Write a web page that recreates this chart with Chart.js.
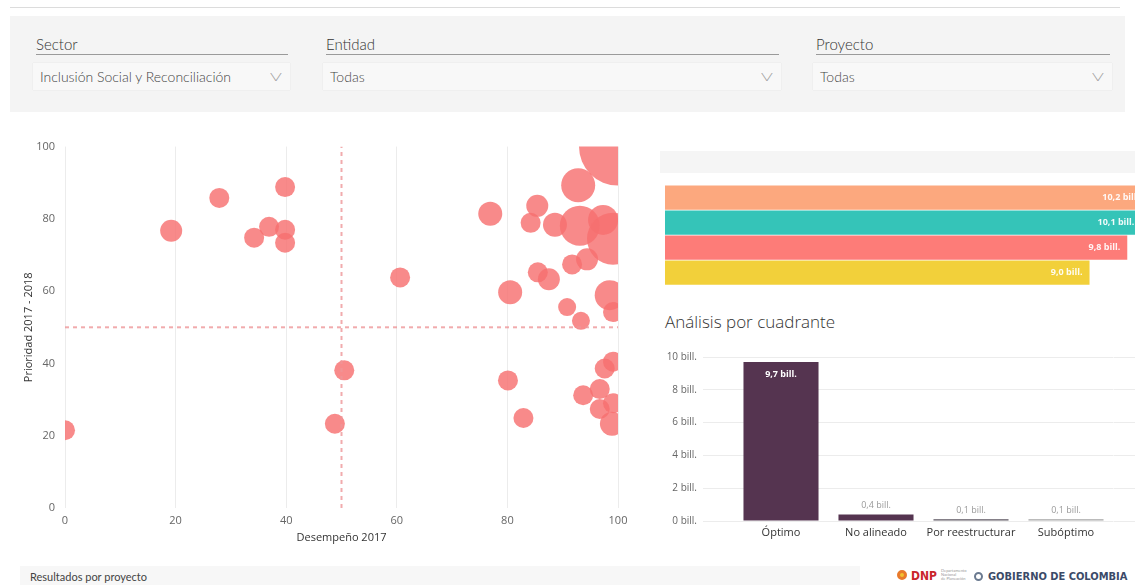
<!DOCTYPE html>
<html lang="es">
<head>
<meta charset="utf-8">
<title>Resultados por proyecto</title>
<script src="https://cdn.jsdelivr.net/npm/chart.js@4.4.1/dist/chart.umd.min.js"></script>
<style>
  html, body { margin: 0; padding: 0; }
  body {
    width: 1135px; height: 585px; overflow: hidden; position: relative;
    background: #fff; font-family: Lato, "Open Sans", sans-serif; color: #333;
  }
  .abs { position: absolute; white-space: nowrap; }
  .topline { left: 10px; top: 7px; width: 1110px; height: 1px; background: #dcdcdc; }
  .filtros { left: 10px; top: 16px; width: 1115px; height: 96px; background: #f4f4f4; }
  .flabel { font-size: 15px; font-weight: 300; color: #333; border-bottom: 1px solid #9a9a9a; padding-bottom: 1px; line-height: 18px; }
  .fbox { height: 27px; background: #f8f8f8; box-shadow: 0 0 1px rgba(0,0,0,0.12); font-size: 14px; font-weight: 300; color: #444; line-height: 27px; box-sizing: border-box; padding-left: 7px; }
  .chev { position: absolute; top: 0; right: 10px; color: #a0a0a0; font-size: 12px; font-weight: 300; transform: scaleX(1.5); }
  .chart { position: absolute; }
  .panelhead { left: 660px; top: 151px; width: 480px; height: 22px; background: #f5f5f5; }
  .titulo { left: 665px; top: 310px; font-size: 17px; font-weight: 300; color: #333; font-family: "Open Sans", Lato, sans-serif; }
  .footer { left: 20px; top: 566px; width: 840px; height: 19px; background: #f7f7f7; }
  .footxt { left: 30px; top: 570px; font-size: 11px; color: #444; }
  .gob { left: 988px; top: 570px; font-size: 11px; font-weight: bold; color: #3b4a68; font-family: "DejaVu Sans Condensed", "Liberation Sans Narrow", "Liberation Sans", sans-serif; }
</style>
</head>
<body>
<div class="abs topline"></div>
<div class="abs filtros"></div>

<div class="abs flabel" style="left:36px;top:35px;width:252px;">Sector</div>
<div class="abs fbox" style="left:33px;top:63px;width:257px;">Inclusión Social y Reconciliación<span class="chev">V</span></div>
<div class="abs flabel" style="left:326px;top:35px;width:453px;">Entidad</div>
<div class="abs fbox" style="left:323px;top:63px;width:458px;">Todas<span class="chev">V</span></div>
<div class="abs flabel" style="left:816px;top:35px;width:294px;">Proyecto</div>
<div class="abs fbox" style="left:813px;top:63px;width:299px;">Todas<span class="chev">V</span></div>

<div class="chart" style="left:0;top:130px;width:640px;height:420px;"><canvas id="dispersion"></canvas></div>

<div class="abs panelhead"></div>
<div class="chart" style="left:665px;top:185px;width:500px;height:100px;"><canvas id="resumen"></canvas></div>

<div class="abs titulo">Análisis por cuadrante</div>
<div class="chart" style="left:660px;top:345px;width:500px;height:200px;"><canvas id="cuadrantes"></canvas></div>

<div class="abs footer"></div>
<div class="abs footxt">Resultados por proyecto</div>
<div class="abs" style="left:897px;top:570px;width:10px;height:10px;border-radius:50%;border:3px solid #e87a2c;box-sizing:border-box;background:#f2c230;"></div>
<div class="abs" style="left:911px;top:569px;font-size:12px;font-weight:bold;color:#c9252c;font-family:'DejaVu Sans Condensed','Liberation Sans',sans-serif;">DNP</div>
<div class="abs" style="left:941px;top:569px;font-size:4px;line-height:4px;color:#999;">Departamento<br>Nacional<br>de Planeación</div>
<div class="abs" style="left:974px;top:572px;width:9px;height:9px;border-radius:50%;border:2px solid #6b7a90;box-sizing:border-box;"></div>
<div class="abs gob">GOBIERNO DE COLOMBIA</div>

<script>
// Proyectos: desempeño 2017 (x), prioridad 2017-2018 (y), tamaño de la burbuja
const desempeno = [0, 19.2, 27.9, 39.8, 36.9, 39.8, 34.2, 39.8, 100, 92.8, 76.9, 85.4, 84.2, 88.6, 93.1, 97.3, 99.1,
  91.7, 94.4, 85.5, 87.5, 80.5, 60.6, 98.5, 99.1, 90.8, 93.3, 50.5, 48.8, 80.1, 82.9, 97.6, 99.1, 93.7, 96.7, 96.7, 99.1, 98.9];
const prioridad = [21.5, 76.7, 85.8, 88.8, 77.8, 77.0, 74.8, 73.4, 100, 89.3, 81.4, 83.6, 78.9, 78.4, 78.1, 79.7, 74.5,
  67.4, 68.8, 65.2, 63.3, 59.7, 63.8, 58.9, 54.2, 55.6, 51.8, 38.1, 23.3, 35.3, 24.9, 38.6, 40.5, 31.2, 32.9, 27.4, 29.0, 23.3];
const tamano = [10, 11, 10, 10, 10, 10, 10, 10, 39, 17, 12, 11, 10, 12, 20, 15, 26,
  10, 11, 10, 11, 12, 10, 15, 10, 9, 9, 10, 10, 10, 10, 10, 10, 10, 10, 10, 10, 12];

// Barras del resumen (sin etiqueta visible)
const resumenLabels = ['1', '2', '3', '4'];
const resumenValores = [10.2, 10.1, 9.8, 9.0];

// Análisis por cuadrante (billones)
const cuadrantes = ['Óptimo', 'No alineado', 'Por reestructurar', 'Subóptimo'];
const cuadranteValores = [9.7, 0.4, 0.1, 0.1];
const cuadranteTicks = [0, 2, 4, 6, 8, 10];

Chart.defaults.font.family = "'Open Sans', Lato, sans-serif";
Chart.defaults.animation = false;

function bill(v) {
  return v.toFixed(1).replace('.', ',') + ' bill.';
}

// scatter / bubble chart
const burbujas = desempeno.map((d, i) => ({ x: d, y: prioridad[i], r: tamano[i] }));
const lineaRef = { borderColor: 'rgba(238,150,152,0.8)', borderDash: [4, 4], borderWidth: 2, pointRadius: 0, clip: 0 };

new Chart(document.getElementById('dispersion'), {
  type: 'bubble',
  data: {
    datasets: [
      Object.assign({ type: 'line', data: [{ x: 50, y: 0 }, { x: 50, y: 100 }] }, lineaRef),
      Object.assign({ type: 'line', data: [{ x: 0, y: 50 }, { x: 100, y: 50 }] }, lineaRef),
      { data: burbujas, backgroundColor: 'rgba(246,112,112,0.82)', borderWidth: 0, clip: 0 }
    ]
  },
  options: {
    responsive: true,
    maintainAspectRatio: false,
    layout: { autoPadding: false, padding: { top: 13, right: 22 } },
    plugins: { legend: { display: false }, tooltip: { enabled: false } },
    scales: {
      x: {
        min: 0, max: 100,
        ticks: { stepSize: 20, color: '#666', font: { size: 11 }, padding: 6 },
        grid: { color: '#ececec', drawTicks: false },
        border: { display: false },
        title: { display: true, text: 'Desempeño 2017', color: '#333', font: { size: 11 }, padding: { top: 0, bottom: 6 } },
        afterFit: (s) => { s.height = 42; }
      },
      y: {
        min: 0, max: 100,
        ticks: { stepSize: 20, color: '#666', font: { size: 11 }, padding: 10 },
        grid: { display: false, drawTicks: false },
        border: { display: false },
        title: { display: true, text: 'Prioridad 2017 - 2018', color: '#333', font: { size: 11 }, padding: { top: 22, bottom: 0 } },
        afterFit: (s) => { s.width = 65; }
      }
    }
  }
});

// labels inside the horizontal bars
const etiquetasResumen = {
  id: 'etiquetasResumen',
  afterDatasetsDraw(chart) {
    const ctx = chart.ctx;
    const meta = chart.getDatasetMeta(0);
    ctx.save();
    ctx.font = "bold 9px 'Open Sans', Lato, sans-serif";
    ctx.fillStyle = 'rgba(255,255,255,0.92)';
    ctx.textAlign = 'right';
    ctx.textBaseline = 'middle';
    meta.data.forEach((bar, i) => {
      ctx.fillText(bill(resumenValores[i]), bar.x - 7, bar.y);
    });
    ctx.restore();
  }
};

new Chart(document.getElementById('resumen'), {
  type: 'bar',
  data: {
    labels: resumenLabels,
    datasets: [{
      data: resumenValores,
      backgroundColor: ['#fca87e', '#35c4b8', '#fd7c78', '#f2d03a'],
      barPercentage: 0.97,
      categoryPercentage: 1
    }]
  },
  options: {
    indexAxis: 'y',
    responsive: true,
    maintainAspectRatio: false,
    layout: { autoPadding: false },
    plugins: { legend: { display: false }, tooltip: { enabled: false } },
    scales: {
      x: { display: false, min: 0, max: 10.6 },
      y: { display: false }
    }
  },
  plugins: [etiquetasResumen]
});

// labels for the quadrant columns
const etiquetasCuadrante = {
  id: 'etiquetasCuadrante',
  afterDatasetsDraw(chart) {
    const ctx = chart.ctx;
    const meta = chart.getDatasetMeta(0);
    ctx.save();
    ctx.textAlign = 'center';
    ctx.textBaseline = 'middle';
    meta.data.forEach((bar, i) => {
      const alto = bar.base - bar.y;
      if (alto > 30) {
        ctx.font = "bold 9px 'Open Sans', Lato, sans-serif";
        ctx.fillStyle = '#ffffff';
        ctx.fillText(bill(cuadranteValores[i]), bar.x, bar.y + 13);
      } else {
        ctx.font = "9px 'Open Sans', Lato, sans-serif";
        ctx.fillStyle = '#9a9a9a';
        ctx.fillText(bill(cuadranteValores[i]), bar.x, bar.y - 9);
      }
    });
    ctx.restore();
  }
};

new Chart(document.getElementById('cuadrantes'), {
  type: 'bar',
  data: {
    labels: cuadrantes,
    datasets: [{
      data: cuadranteValores,
      backgroundColor: ['#553450', '#553450', '#5c5660', '#a5a5a5'],
      barPercentage: 0.79,
      categoryPercentage: 1
    }]
  },
  options: {
    responsive: true,
    maintainAspectRatio: false,
    layout: { autoPadding: false, padding: { top: 12 } },
    plugins: { legend: { display: false }, tooltip: { enabled: false } },
    scales: {
      x: {
        ticks: { color: '#333', font: { size: 11 }, padding: 5 },
        grid: { display: false, drawTicks: false },
        border: { display: false },
        afterFit: (s) => { s.height = 24; }
      },
      y: {
        min: 0, max: 10,
        afterBuildTicks: (s) => { s.ticks = cuadranteTicks.map((v) => ({ value: v })); },
        ticks: { color: '#666', font: { size: 10 }, padding: 6, callback: (v) => v + ' bill.' },
        grid: { color: '#ececec', tickLength: 30.5 },
        border: { display: false },
        afterFit: (s) => { s.width = 73.5; }
      },
      y2: {
        position: 'right',
        min: 0, max: 10,
        afterBuildTicks: (s) => { s.ticks = cuadranteTicks.map((v) => ({ value: v })); },
        ticks: { display: false },
        grid: { color: '#ececec', drawOnChartArea: false, tickLength: 25 },
        border: { display: false },
        afterFit: (s) => { s.width = 46.5; }
      }
    }
  },
  plugins: [etiquetasCuadrante]
});
</script>
</body>
</html>
